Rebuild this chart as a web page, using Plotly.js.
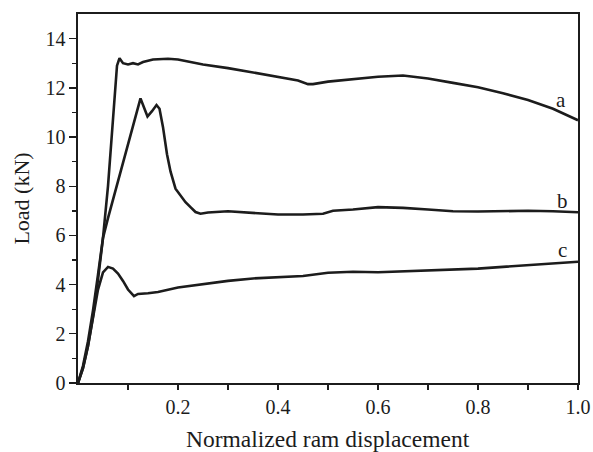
<!DOCTYPE html>
<html>
<head>
<meta charset="utf-8">
<script src="https://cdn.plot.ly/plotly-3.0.1.min.js"></script>
<style>html,body{margin:0;padding:0;background:#fff;}#chart{width:593px;height:452px;}</style>
</head>
<body>
<div id="chart"></div>
<script>
var aX = [0, 0.01, 0.02, 0.03, 0.04, 0.05, 0.06, 0.07, 0.078, 0.083, 0.09, 0.1, 0.11, 0.12, 0.13, 0.15, 0.18, 0.2, 0.25, 0.3, 0.35, 0.4, 0.44, 0.46, 0.47, 0.5, 0.55, 0.6, 0.65, 0.7, 0.75, 0.8, 0.85, 0.9, 0.95, 1.0];
var aY = [0, 0.6, 1.5, 2.7, 4.2, 5.9, 8.0, 10.6, 12.9, 13.2, 13.0, 12.95, 13.0, 12.95, 13.05, 13.15, 13.18, 13.15, 12.95, 12.8, 12.62, 12.45, 12.3, 12.15, 12.15, 12.25, 12.35, 12.45, 12.5, 12.38, 12.2, 12.02, 11.78, 11.5, 11.15, 10.68];

var bX = [0, 0.01, 0.02, 0.03, 0.04, 0.05, 0.06, 0.07, 0.08, 0.09, 0.1, 0.11, 0.12, 0.125, 0.132, 0.139, 0.148, 0.157, 0.163, 0.17, 0.178, 0.185, 0.195, 0.205, 0.215, 0.225, 0.235, 0.245, 0.26, 0.3, 0.35, 0.4, 0.45, 0.49, 0.51, 0.55, 0.6, 0.65, 0.7, 0.75, 0.8, 0.85, 0.9, 0.95, 1.0];
var bY = [0, 0.7, 1.7, 2.95, 4.4, 5.9, 6.7, 7.45, 8.2, 9.0, 9.75, 10.5, 11.25, 11.57, 11.2, 10.83, 11.05, 11.3, 11.15, 10.4, 9.3, 8.6, 7.9, 7.6, 7.35, 7.15, 6.95, 6.88, 6.93, 6.98, 6.92, 6.85, 6.85, 6.88, 7.0, 7.05, 7.15, 7.12, 7.05, 6.98, 6.97, 7.0, 7.0, 6.98, 6.94];

var cX = [0, 0.01, 0.02, 0.03, 0.04, 0.05, 0.06, 0.07, 0.08, 0.09, 0.1, 0.112, 0.12, 0.14, 0.16, 0.2, 0.25, 0.3, 0.35, 0.4, 0.45, 0.5, 0.55, 0.6, 0.65, 0.7, 0.75, 0.8, 0.85, 0.9, 0.95, 1.0];
var cY = [0, 0.6, 1.5, 2.6, 3.8, 4.5, 4.72, 4.65, 4.45, 4.15, 3.8, 3.53, 3.62, 3.65, 3.7, 3.88, 4.02, 4.15, 4.25, 4.3, 4.35, 4.48, 4.52, 4.5, 4.53, 4.58, 4.6, 4.65, 4.72, 4.78, 4.85, 4.93];

var curveLabels = ["a", "b", "c"];
var labelX = [0.966, 0.968, 0.968];
var labelY = [11.5, 7.4, 5.4];

var xTickVals = [0.1, 0.2, 0.3, 0.4, 0.5, 0.6, 0.7, 0.8, 0.9, 1.0];
var xTickText = ["", "0.2", "", "0.4", "", "0.6", "", "0.8", "", "1.0"];
var xTitle = "Normalized ram displacement";
var yTitle = "Load (kN)";

var ink = "#1c1c1c";
var lineStyle = {color: ink, width: 2.6};
var data = [
  {x: aX, y: aY, mode: "lines", line: lineStyle, showlegend: false, hoverinfo: "skip"},
  {x: bX, y: bY, mode: "lines", line: lineStyle, showlegend: false, hoverinfo: "skip"},
  {x: cX, y: cY, mode: "lines", line: lineStyle, showlegend: false, hoverinfo: "skip"}
];

var annotations = curveLabels.map(function(t, i) {
  return {x: labelX[i], y: labelY[i], xref: "x", yref: "y", text: t, showarrow: false,
    xanchor: "center", yanchor: "middle", font: {family: "Liberation Serif", size: 21, color: ink}};
});
annotations.push({x: 0.5, y: -0.153, xref: "paper", yref: "paper", text: xTitle, showarrow: false,
  xanchor: "center", yanchor: "middle", font: {family: "Liberation Serif", size: 23.5, color: ink}});

var layout = {
  width: 593, height: 452,
  margin: {l: 78, r: 15, t: 14, b: 69},
  paper_bgcolor: "#fff", plot_bgcolor: "#fff",
  font: {family: "Liberation Serif", color: ink, size: 20},
  xaxis: {
    range: [0, 1.0], showgrid: false, zeroline: false,
    showline: true, mirror: true, linecolor: ink, linewidth: 1.6,
    ticks: "outside", ticklen: 5, tickwidth: 1.4, tickcolor: ink,
    tickmode: "array", tickvals: xTickVals, ticktext: xTickText,
    tickfont: {family: "Liberation Serif", size: 20, color: ink}
  },
  yaxis: {
    range: [0, 15], showgrid: false, zeroline: false,
    showline: true, mirror: true, linecolor: ink, linewidth: 1.6,
    ticks: "outside", ticklen: 7, tickwidth: 1.4, tickcolor: ink,
    tickmode: "array", tickvals: [0, 2, 4, 6, 8, 10, 12, 14],
    minor: {tickmode: "array", tickvals: [1, 3, 5, 7, 9, 11, 13], ticks: "outside", ticklen: 4, tickwidth: 1.4, tickcolor: ink, showgrid: false},
    tickfont: {family: "Liberation Serif", size: 20, color: ink},
    title: {text: yTitle, font: {family: "Liberation Serif", size: 22, color: ink}, standoff: 10}
  },
  annotations: annotations
};

Plotly.newPlot("chart", data, layout, {displayModeBar: false, staticPlot: true});
</script>
</body>
</html>
